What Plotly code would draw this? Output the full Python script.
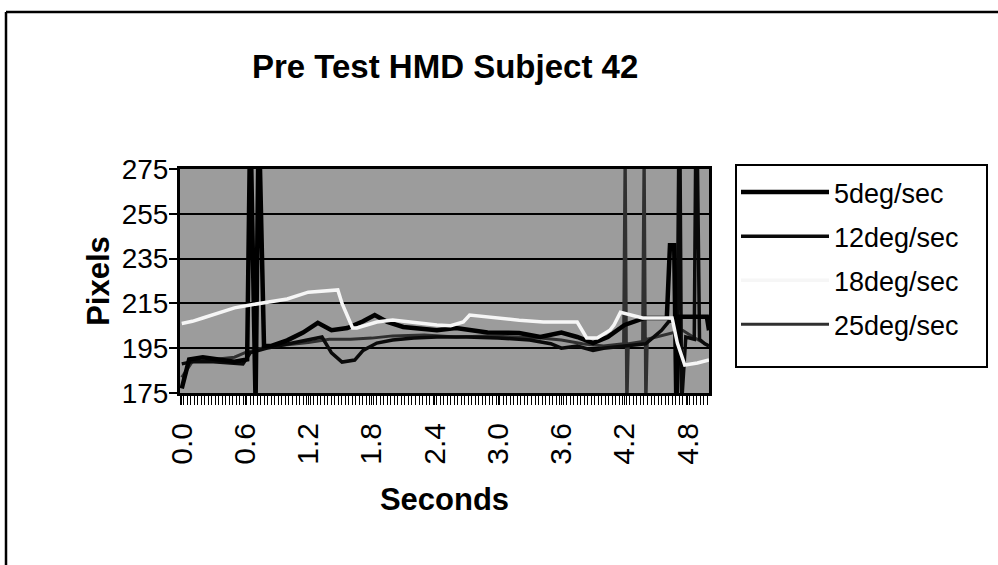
import plotly.graph_objects as go

# ---------------- data ----------------
chart_title = "Pre Test HMD Subject 42"
x_title = "Seconds"
y_title = "Pixels"
series_names = ["5deg/sec", "12deg/sec", "18deg/sec", "25deg/sec"]

x_tick_vals = [0.0, 0.6, 1.2, 1.8, 2.4, 3.0, 3.6, 4.2, 4.8]
x_tick_text = ["0.0", "0.6", "1.2", "1.8", "2.4", "3.0", "3.6", "4.2", "4.8"]
y_tick_vals = [175, 195, 215, 235, 255, 275]

t_5deg = [0.0, 0.07, 0.2, 0.35, 0.5, 0.62, 0.65, 0.70, 0.73, 0.78, 0.85, 1.0, 1.15,
          1.29, 1.42, 1.57, 1.72, 1.83, 1.95, 2.1, 2.42, 2.6, 2.9, 3.2, 3.4, 3.6,
          3.75, 3.9, 4.04, 4.2, 4.39, 4.6, 4.63, 4.67, 4.69, 4.72, 4.98, 5.0]
v_5deg = [177, 190, 191, 190, 189, 190, 300, 170, 300, 196, 196, 198.5, 202,
          206.3, 203, 204, 207, 209.8, 206.7, 204.5, 203, 204, 202, 201.8, 200, 202,
          200, 197.3, 200, 205.4, 208.5, 208.5, 241, 241, 170, 209, 209, 203]

t_12deg = [0.0, 0.1, 0.3, 0.5, 0.58, 0.65, 0.8, 1.05, 1.2, 1.33, 1.42, 1.52, 1.64,
           1.72, 1.85, 2.0, 2.2, 2.42, 2.7, 3.0, 3.3, 3.5, 3.6, 3.75, 3.9, 4.0, 4.2,
           4.4, 4.55, 4.62, 4.70, 4.72, 4.74, 4.78, 4.86, 4.88, 4.91, 4.96, 5.0]
v_12deg = [188, 189, 189, 188.5, 188, 193, 195, 197.3, 198.7, 200, 192.9, 188.8, 189.7,
           194, 197.3, 198.7, 199.6, 200, 200, 199.6, 198.7, 197, 195, 196, 194, 195, 196,
           197, 203, 207, 207, 320, 170, 200, 199, 320, 199, 197, 196]

t_18deg = [0.0, 0.1, 0.2, 0.3, 0.4, 0.5, 0.65, 0.83, 1.0, 1.2, 1.48, 1.52, 1.62, 1.66,
           1.85, 2.0, 2.2, 2.42, 2.55, 2.67, 2.73, 2.99, 3.2, 3.43, 3.75, 3.84, 3.94,
           4.06, 4.1, 4.16, 4.37, 4.65, 4.7, 4.77, 4.89, 5.0]
v_18deg = [206, 207, 208.5, 210, 211.5, 213, 214.3, 215.6, 217, 220, 221, 215, 204, 204,
           206.7, 207.6, 206.5, 205.4, 205, 206.7, 209.8, 208.5, 207.5, 206.7, 206.7, 199.6, 199.6,
           203, 205.4, 211, 208.5, 208.5, 197.3, 187.5, 188.4, 189.7]

t_25deg = [0.0, 0.1, 0.3, 0.5, 0.6, 0.8, 1.0, 1.2, 1.4, 1.6, 1.8, 2.0, 2.3, 2.6, 2.9,
           3.2, 3.4, 3.6, 3.8, 4.0, 4.19, 4.205, 4.22, 4.235, 4.37, 4.385, 4.40, 4.415,
           4.5, 4.6, 4.75, 4.85, 5.0]
v_25deg = [182, 189, 190, 191, 193, 195.5, 196.5, 197.5, 199, 199, 199.5, 200.5, 200.9, 200, 200.5,
           200, 199.6, 198.7, 197, 196, 197, 290, 165, 197, 198, 290, 165, 199,
           200, 201, 203, 200, 196]

# ---------------- styling ----------------
FONT = "Arial, Liberation Sans, Helvetica, sans-serif"
line_colors = {"5deg/sec": "#000000", "12deg/sec": "#0a0a0a",
               "18deg/sec": "#f6f6f6", "25deg/sec": "#303030"}
line_widths = {"5deg/sec": 4.5, "12deg/sec": 3.5, "18deg/sec": 3.5, "25deg/sec": 3}
data_map = {"5deg/sec": (t_5deg, v_5deg), "12deg/sec": (t_12deg, v_12deg),
            "18deg/sec": (t_18deg, v_18deg), "25deg/sec": (t_25deg, v_25deg)}
draw_order = ["25deg/sec", "12deg/sec", "5deg/sec", "18deg/sec"]

fig = go.Figure()
for name in draw_order:
    t, v = data_map[name]
    fig.add_trace(go.Scatter(
        x=t, y=v, mode="lines", name=name,
        line=dict(color=line_colors[name], width=line_widths[name]),
        legendrank=series_names.index(name) + 1,
        legendgroup=name,
    ))

PW, PH = 529, 224   # plot area size in px
L, B = 180, 172     # margins

def px_x(x):
    return (x - L) / PW

def px_y(y):
    return (565 - B - y) / PH

fig.update_layout(
    width=998, height=565,
    margin=dict(l=L, r=998 - L - PW, t=565 - B - PH, b=B, autoexpand=False),
    paper_bgcolor="white",
    plot_bgcolor="#9c9c9c",
    font=dict(family=FONT, color="black", size=28),
    title=dict(text="<b>" + chart_title + "</b>", x=0.446, xanchor="center",
               y=0.883, yanchor="middle", font=dict(size=33, family=FONT)),
    legend=dict(x=px_x(736), xanchor="left", y=px_y(168), yanchor="top",
                borderwidth=0, bgcolor="rgba(255,255,255,0)",
                font=dict(size=27, family=FONT), itemwidth=88,
                tracegroupgap=6, traceorder="grouped"),
    showlegend=True,
)

fig.update_xaxes(
    range=[-0.0167, 5.0], tickmode="array", tickvals=x_tick_vals, ticktext=x_tick_text,
    tickangle=-90, tickfont=dict(size=30, family=FONT), ticklabelstandoff=6,
    ticks="outside", ticklen=9, tickcolor="black", tickwidth=1,
    minor=dict(dtick=1/30, tick0=-1/60, ticks="outside", ticklen=9, tickcolor="black", tickwidth=1),
    showgrid=False, zeroline=False,
    showline=True, linecolor="black", linewidth=3, mirror=True,
    title=dict(text="<b>" + x_title + "</b>", font=dict(size=31, family=FONT), standoff=25),
)
fig.update_yaxes(
    range=[175, 275], tickmode="array", tickvals=y_tick_vals,
    tickfont=dict(size=28, family=FONT), ticklabelstandoff=-5,
    ticks="outside", ticklen=8, tickcolor="black", tickwidth=1.5,
    showgrid=True, gridcolor="black", gridwidth=1.5, zeroline=False,
    showline=True, linecolor="black", linewidth=3, mirror=True,
    title=dict(text="<b>" + y_title + "</b>", font=dict(size=31, family=FONT), standoff=3),
)

# legend frame
fig.add_shape(type="rect", xref="paper", yref="paper",
              x0=px_x(736), x1=px_x(987), y0=px_y(367), y1=px_y(165),
              line=dict(color="black", width=2), fillcolor="rgba(0,0,0,0)", layer="below")
# outer chart frame (only top and left edges are visible in the scan)
fig.add_shape(type="line", xref="paper", yref="paper", x0=px_x(6), x1=px_x(998),
              y0=px_y(12), y1=px_y(12), line=dict(color="black", width=2.5))
fig.add_shape(type="line", xref="paper", yref="paper", x0=px_x(6), x1=px_x(6),
              y0=px_y(12), y1=px_y(565), line=dict(color="black", width=2.5))

fig.write_html("out.html", config={"displayModeBar": False},
               post_script="document.body.style.margin='0';")
